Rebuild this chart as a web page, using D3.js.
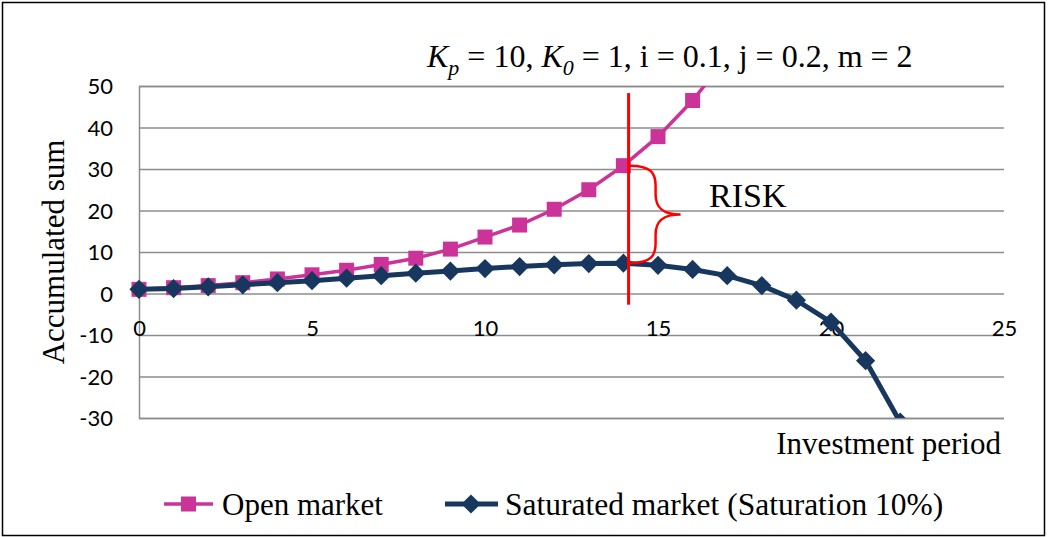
<!DOCTYPE html>
<html>
<head>
<meta charset="utf-8">
<script src="https://cdn.jsdelivr.net/npm/d3@7"></script>
<style>
  html, body { margin: 0; padding: 0; background: #fff; }
  svg { display: block; }
</style>
</head>
<body>
<svg id="chart" width="1049" height="537"></svg>
<script>
// Investment period (years)
const periods = d3.range(0, 23);

// Accumulated sum, open market
const openMarket = [1.0, 1.4, 1.9, 2.6, 3.5, 4.5, 5.6, 7.0, 8.5, 10.7, 13.6, 16.5, 20.3, 25.0, 30.8, 37.8, 46.5, 57.0];

// Accumulated sum, saturated market (saturation 10%)
const saturatedMarket = [1.0, 1.2, 1.6, 2.1, 2.6, 3.1, 3.7, 4.3, 4.9, 5.4, 6.0, 6.5, 6.9, 7.2, 7.3, 6.8, 5.8, 4.3, 1.9, -1.6, -6.9, -16.2, -31.0];

const xTicks = [0, 5, 10, 15, 20, 25];
const yTicks = [-30, -20, -10, 0, 10, 20, 30, 40, 50];

const seriesNames = ["Open market", "Saturated market (Saturation 10%)"];
const riskPeriod = 14;           // period where the risk gap is marked
const riskLine = [-2.7, 48.3];   // vertical extent of the marker line

const svg = d3.select("#chart");
const W = 1049, H = 537;
const plot = { left: 139, right: 1004, top: 86, bottom: 418 };

const x = d3.scaleLinear().domain([0, 25]).range([plot.left, plot.right]);
const y = d3.scaleLinear().domain([-30, 50]).range([plot.bottom, plot.top]);

const pink = "#CC3399";
const navy = "#17375E";
const serif = "'Liberation Serif', 'Times New Roman', serif";
const sans = "Lato, 'Open Sans', sans-serif";
const fmt = d => String(d); // plain hyphen for negatives

// Outer frame
svg.append("rect")
  .attr("x", 2.5).attr("y", 2.5).attr("width", W - 7).attr("height", H - 4)
  .attr("fill", "#fff").attr("stroke", "#000").attr("stroke-width", 1.5);

// Horizontal gridlines
const yAxis = d3.axisLeft(y).tickValues(yTicks).tickSize(-(plot.right - plot.left)).tickPadding(26).tickFormat(fmt);
const gy = svg.append("g").attr("transform", `translate(${plot.left},0)`).call(yAxis);
gy.select(".domain").attr("stroke", "#8c8c8c").attr("stroke-width", 1.5);
gy.selectAll(".tick line").attr("stroke", "#8c8c8c").attr("stroke-width", 1.5);
gy.selectAll(".tick text")
  .attr("font-family", sans).attr("font-size", 22).attr("fill", "#000")
  .attr("dy", "0.36em");

// X axis crossing at zero, labels just below it
const xAxis = d3.axisBottom(x).tickValues(xTicks).tickSize(0).tickPadding(27).tickFormat(fmt);
const gx = svg.append("g").attr("transform", `translate(0,${y(0)})`).call(xAxis);
gx.select(".domain").remove();
gx.selectAll(".tick text")
  .attr("font-family", sans).attr("font-size", 22).attr("fill", "#000");

// Clip series to the plot area
svg.append("clipPath").attr("id", "plotClip")
  .append("rect")
  .attr("x", plot.left - 12).attr("y", plot.top)
  .attr("width", plot.right - plot.left + 24).attr("height", plot.bottom - plot.top);

const line = d3.line().x((d, i) => x(periods[i])).y(d => y(d));
const series = svg.append("g").attr("clip-path", "url(#plotClip)");

// Open market: line + squares
series.append("path").datum(openMarket)
  .attr("d", line).attr("fill", "none").attr("stroke", pink).attr("stroke-width", 3.5);
series.selectAll("rect.open").data(openMarket).join("rect")
  .attr("class", "open")
  .attr("x", (d, i) => x(periods[i]) - 7.5).attr("y", d => y(d) - 7.5)
  .attr("width", 15).attr("height", 15).attr("fill", pink);

// Saturated market: line + diamonds
series.append("path").datum(saturatedMarket)
  .attr("d", line).attr("fill", "none").attr("stroke", navy).attr("stroke-width", 5);
const diamond = d3.symbol().type(d3.symbolSquare).size(185);
series.selectAll("path.sat").data(saturatedMarket).join("path")
  .attr("class", "sat")
  .attr("d", diamond)
  .attr("transform", (d, i) => `translate(${x(periods[i])},${y(d)}) rotate(45)`)
  .attr("fill", navy);

// Risk marker: vertical line and curly brace spanning the gap at the marked period
const rx = x(riskPeriod + 0.15);
svg.append("line")
  .attr("x1", rx).attr("x2", rx)
  .attr("y1", y(riskLine[1])).attr("y2", y(riskLine[0]))
  .attr("stroke", "#FF0000").attr("stroke-width", 3);

const bTop = y(openMarket[riskPeriod]);
const bBot = y(saturatedMarket[riskPeriod]);
const bMid = (bTop + bBot) / 2;
const bx0 = rx + 1, bx1 = rx + 27, bTip = rx + 52;
const brace = d3.path();
brace.moveTo(bx0, bTop);
brace.bezierCurveTo(bx1 - 4, bTop, bx1, bTop + 8, bx1, bTop + 20);
brace.lineTo(bx1, bMid - 20);
brace.bezierCurveTo(bx1, bMid - 6, bx1 + 8, bMid, bTip, bMid);
brace.bezierCurveTo(bx1 + 8, bMid, bx1, bMid + 6, bx1, bMid + 20);
brace.lineTo(bx1, bBot - 20);
brace.bezierCurveTo(bx1, bBot - 8, bx1 - 4, bBot, bx0, bBot);
svg.append("path").attr("d", brace.toString())
  .attr("fill", "none").attr("stroke", "#FF0000").attr("stroke-width", 2.5);

svg.append("text")
  .attr("x", 709).attr("y", 207)
  .attr("font-family", serif).attr("font-size", 34).attr("fill", "#000")
  .text("RISK");

// Title with parameters
const title = svg.append("text")
  .attr("x", 427).attr("y", 67)
  .attr("font-family", serif).attr("font-size", 32).attr("fill", "#000");
title.append("tspan").attr("font-style", "italic").text("K");
title.append("tspan").attr("font-style", "italic").attr("font-size", 22).attr("dy", 8).text("p");
title.append("tspan").attr("dy", -8).text(" = 10, ");
title.append("tspan").attr("font-style", "italic").text("K");
title.append("tspan").attr("font-style", "italic").attr("font-size", 22).attr("dy", 8).text("0");
title.append("tspan").attr("dy", -8).text(" = 1, i = 0.1, j = 0.2, m = 2");

// Axis titles
svg.append("text")
  .attr("transform", `translate(64,${(plot.top + plot.bottom) / 2}) rotate(-90)`)
  .attr("text-anchor", "middle")
  .attr("font-family", serif).attr("font-size", 31).attr("fill", "#000")
  .text("Accumulated sum");

svg.append("text")
  .attr("x", 1001).attr("y", 454).attr("text-anchor", "end")
  .attr("font-family", serif).attr("font-size", 31).attr("fill", "#000")
  .text("Investment period");

// Legend
const legend = svg.append("g").attr("transform", "translate(0,504)");
const l1 = legend.append("g").attr("transform", "translate(164,0)");
l1.append("line").attr("x1", 0).attr("x2", 49).attr("stroke", pink).attr("stroke-width", 3.5);
l1.append("rect").attr("x", 17).attr("y", -7.5).attr("width", 15).attr("height", 15).attr("fill", pink);
l1.append("text").attr("x", 58).attr("y", 11)
  .attr("font-family", serif).attr("font-size", 31).attr("fill", "#000").text(seriesNames[0]);

const l2 = legend.append("g").attr("transform", "translate(445,0)");
l2.append("line").attr("x1", 0).attr("x2", 53).attr("stroke", navy).attr("stroke-width", 5);
l2.append("path").attr("d", diamond).attr("transform", "translate(26,0) rotate(45)").attr("fill", navy);
l2.append("text").attr("x", 60).attr("y", 11)
  .attr("font-family", serif).attr("font-size", 31.5).attr("fill", "#000").text(seriesNames[1]);
</script>
</body>
</html>
